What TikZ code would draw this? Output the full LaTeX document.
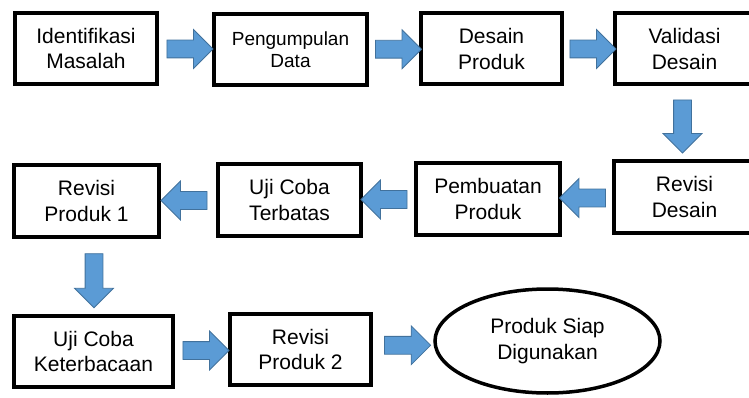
\documentclass[tikz,border=0pt]{standalone}
\usepackage{fontspec}
\setmainfont{Liberation Sans}
\usetikzlibrary{shapes.geometric,shapes.arrows,calc}
\definecolor{arrowfill}{HTML}{5B9BD5}
\definecolor{arrowline}{HTML}{41719C}

\begin{document}
\begin{tikzpicture}[x=1pt, y=-1pt,
    stage/.style ={rectangle, draw, line width=4pt, align=center,
      minimum width=142pt, minimum height=71pt, inner sep=2pt,
      font=\fontsize{21}{25.5}\selectfont},
    finish/.style ={ellipse, draw, line width=3.5pt, align=center,
      minimum width=225pt, minimum height=104pt,
      font=\fontsize{21}{25.5}\selectfont},
    flow/.style ={single arrow, draw=arrowline, fill=arrowfill, line width=0.8pt,
      inner sep=0pt, text height=8.5pt, text depth=8.5pt,
      single arrow head extend=10.5pt, minimum height=46pt}]
   \useasboundingbox (0,0) rectangle (749,398);
   \clip (0,0) rectangle (749,398);
   \node[stage] (idm) at (86,48.5) {Identifikasi\\Masalah};
   \node[stage, minimum width=153pt, font=\fontsize{19}{22}\selectfont] (pgd) at (290.5,49.5) {Pengumpulan\\Data};
   \node[stage, minimum width=141pt] (dsp) at (491.5,49) {Desain\\Produk};
   \node[stage, minimum width=139pt] (vld) at (684.5,49) {Validasi\\Desain};
   \node[stage, minimum width=141pt] (rvd) at (684.5,197) {Revisi\\Desain};
   \node[stage, minimum width=144pt] (pbp) at (488,199) {Pembuatan\\Produk};
   \node[stage, minimum width=143pt] (ujt) at (289.5,200) {Uji Coba\\Terbatas};
   \node[stage, minimum width=145pt] (rp1) at (86.5,201) {Revisi\\Produk 1};
   \node[stage, minimum width=159pt] (ujk) at (93.5,351.5) {Uji Coba\\Keterbacaan};
   \node[stage, minimum width=141pt] (rp2) at (300.5,349.5) {Revisi\\Produk 2};
   \node[finish] (psd) at (547.5,341) {Produk Siap\\Digunakan};
   % block arrows between the stages
   \node[flow] (a1) at ($(idm.east)!.5!(pgd.west)$) {};
   \node[flow] (a2) at ($(pgd.east)!.5!(dsp.west)$) {};
   \node[flow] (a3) at ($(dsp.east)!.5!(vld.west)$) {};
   \node[flow, rotate=-90, minimum height=53pt] (a4) at ($(vld.south)!.5!(rvd.north)+(-2,-1)$) {};
   \node[flow, shape border rotate=180] (a5) at ($(rvd.west)!.5!(pbp.east)$) {};
   \node[flow, shape border rotate=180] (a6) at ($(pbp.west)!.5!(ujt.east)$) {};
   \node[flow, shape border rotate=180] (a7) at ($(ujt.west)!.5!(rp1.east)$) {};
   \node[flow, rotate=-90, minimum height=54pt] (a8) at ($(rp1.south)!.5!(ujk.north)+(4,0)$) {};
   \node[flow] (a9) at ($(ujk.east)!.5!(rp2.west)$) {};
   \node[flow] (a10) at ($(rp2.east)!.5!(psd.west)$) {};
 \end{tikzpicture}
\end{document}
